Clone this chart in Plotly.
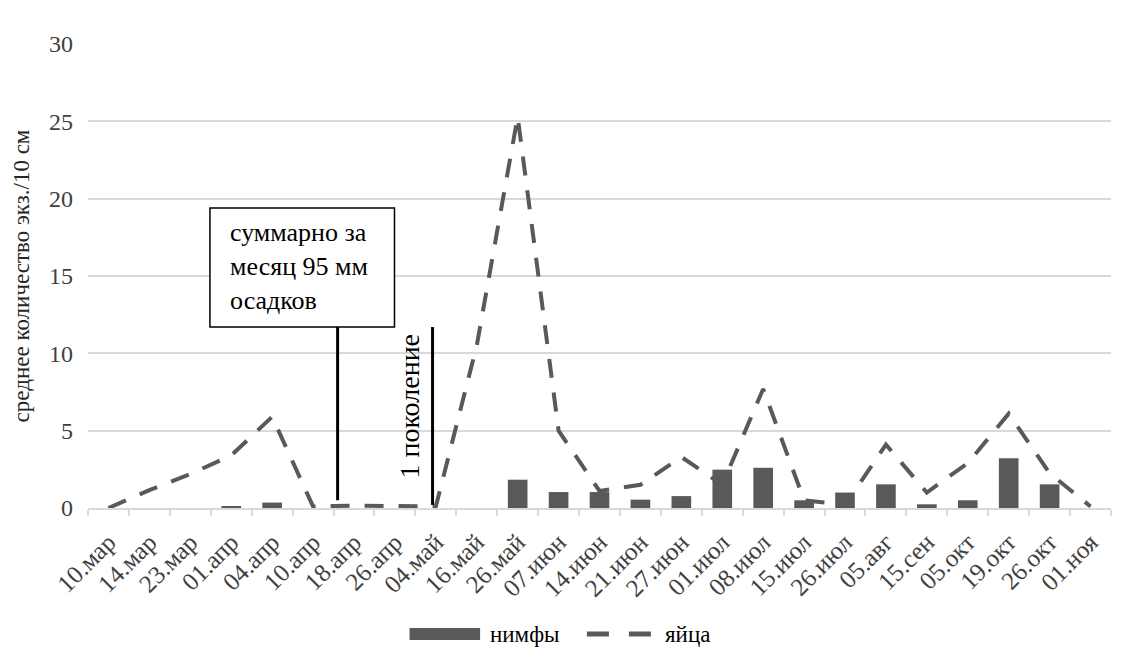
import plotly.graph_objects as go

categories = ["10.мар", "14.мар", "23.мар", "01.апр", "04.апр", "10.апр", "18.апр", "26.апр",
              "04.май", "16.май", "26.май", "07.июн", "14.июн", "21.июн", "27.июн", "01.июл",
              "08.июл", "15.июл", "26.июл", "05.авг", "15.сен", "05.окт", "19.окт", "26.окт", "01.ноя"]

nymphs = [0, 0, 0, 0.12, 0.35, 0, 0, 0, 0, 0, 1.83, 1.03, 1.03, 0.54, 0.77, 2.48,
          2.6, 0.5, 1.0, 1.53, 0.24, 0.5, 3.22, 1.53, 0]

eggs = [0, 1.15, 2.2, 3.4, 5.9, 0.1, 0.15, 0.15, 0.1, 10.5, 25.3, 5.0, 1.1, 1.5, 3.3, 1.5,
        7.7, 0.5, 0.2, 4.1, 1.0, 2.9, 6.1, 2.25, 0.1]

y_ticks = [0, 5, 10, 15, 20, 25, 30]

series_names = ["нимфы", "яйца"]
y_title = "среднее количество экз./10 см"
note_text = "суммарно за<br>месяц 95 мм<br>осадков"
gen_text = "1 поколение"

FONT = "'Liberation Serif', 'Times New Roman', 'DejaVu Serif', serif"
GREY = "#595959"
GRID = "#d9d9d9"
TXT = "#404040"

fig = go.Figure()
fig.add_trace(go.Bar(x=categories, y=nymphs, name=series_names[0],
                     marker=dict(color=GREY, line=dict(width=0)), showlegend=False))
fig.add_trace(go.Scatter(x=categories, y=eggs, name=series_names[1], mode="lines",
                         line=dict(color=GREY, width=4, dash="19px,15px"), showlegend=False))

# annotation box and pointer lines (data coordinates on category index axis)
fig.add_shape(type="rect", x0=2.48, x1=6.99, y0=11.7, y1=19.4, xref="x", yref="y",
              line=dict(color="black", width=1.5), fillcolor="white", layer="above")
fig.add_shape(type="line", x0=5.6, x1=5.6, y0=11.7, y1=0.5, xref="x", yref="y",
              line=dict(color="black", width=3))
fig.add_shape(type="line", x0=7.92, x1=7.92, y0=11.7, y1=0.2, xref="x", yref="y",
              line=dict(color="black", width=3))
fig.add_annotation(x=2.92, y=15.6, xref="x", yref="y", text=note_text, showarrow=False,
                   xanchor="left", yanchor="middle", align="left",
                   font=dict(family=FONT, size=26, color="black"))
fig.add_annotation(x=7.36, y=6.6, xref="x", yref="y", text=gen_text, showarrow=False,
                   textangle=-90, xanchor="center", yanchor="middle",
                   font=dict(family=FONT, size=28, color="black"))

# manual legend (paper coordinates)
fig.add_shape(type="rect", x0=0.3143, x1=0.3833, y0=-0.2845, y1=-0.2586, xref="paper", yref="paper",
              line=dict(width=0), fillcolor=GREY)
fig.add_annotation(x=0.3911, y=-0.2716, xref="paper", yref="paper", text=series_names[0],
                   showarrow=False, xanchor="left", yanchor="middle",
                   font=dict(family=FONT, size=23, color="black"))
fig.add_shape(type="line", x0=0.4877, x1=0.5507, y0=-0.2716, y1=-0.2716, xref="paper", yref="paper",
              line=dict(color=GREY, width=5, dash="22px,20px"))
fig.add_annotation(x=0.5616, y=-0.2716, xref="paper", yref="paper", text=series_names[1],
                   showarrow=False, xanchor="left", yanchor="middle",
                   font=dict(family=FONT, size=23, color="black"))

fig.update_layout(
    width=1122, height=640,
    margin=dict(l=80, r=19, t=36, b=140),
    paper_bgcolor="white", plot_bgcolor="white",
    bargap=0.52,
    font=dict(family=FONT, size=23, color=TXT),
)
fig.update_xaxes(type="category", tickson="boundaries", ticks="outside", ticklen=6,
                 tickcolor=GRID, tickwidth=1.5, showline=True, linecolor=GRID, linewidth=1.5,
                 showgrid=False, tickangle=-45, ticklabelstandoff=8,
                 tickfont=dict(family=FONT, size=25, color=TXT), range=[-0.5, 24.5])
fig.update_yaxes(range=[0, 30], tickvals=y_ticks, showgrid=True, gridcolor=GRID, gridwidth=1.5,
                 zeroline=False, showline=False, ticks="", ticklabelstandoff=14,
                 tickfont=dict(family=FONT, size=24, color=TXT),
                 title=dict(text=y_title, font=dict(family=FONT, size=23, color="#262626"), standoff=12))

fig.write_html("out.html")
